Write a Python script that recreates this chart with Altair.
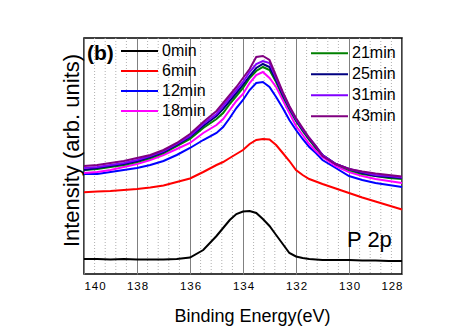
import altair as alt
import pandas as pd

energy = [140, 139.5, 139, 138.5, 138, 137.5, 137, 136.5, 136, 135.5, 135,
          134.75, 134.5, 134.25, 134, 133.75, 133.5, 133.25, 133,
          132.75, 132.5, 132.25, 132, 131.75, 131.5, 131.25, 131,
          130.5, 130, 129.5, 129, 128.5, 128]

min0 = [15, 15, 14.5, 15, 14.5, 14.5, 14.5, 15, 16.5, 24, 38,
        46, 54, 60, 62.5, 63, 61, 55, 48,
        39, 30, 21, 17.5, 16, 15, 14.5, 14,
        14, 14, 13.5, 13.5, 13, 13]
min6 = [81.7, 82.5, 83, 84, 85, 86.5, 88.5, 92, 95.5, 102, 109,
        112, 116, 120, 124, 130, 134, 135, 134.5,
        129, 121, 113, 104, 99, 95, 92.5, 90,
        85.5, 81, 76.5, 72.5, 68.5, 64.5]
min12 = [100, 100, 102, 104, 106, 109, 113, 119, 126, 134, 141,
         147, 156, 166, 174, 184, 191, 192, 187,
         177, 166, 154, 144, 135, 127, 121, 114,
         106, 98, 94, 91, 89, 87]
min18 = [101, 102, 104, 107, 110, 114, 119, 125, 131, 141, 149,
         155, 164, 173, 180, 191, 199, 202, 196,
         187, 174, 161, 148, 139, 130, 123, 117,
         108, 102, 98, 95, 93, 91]
min21 = [104, 105, 107, 109, 112, 116, 121, 128, 135, 146, 155,
         161, 170, 178, 186, 196, 203, 207, 204,
         192, 178, 165, 153, 143, 134, 126, 119,
         110, 104, 100, 98, 96, 95]
min25 = [104, 106, 108, 110, 113, 117, 122, 129, 137, 148, 158,
         165, 173, 181, 189, 198, 206, 210, 207,
         194, 179, 166, 154, 144, 135, 127, 119,
         110, 105, 101, 98, 97, 96]
min31 = [106, 107, 109, 111, 114, 118, 123, 130, 138, 150, 160,
         168, 176, 184, 192, 202, 210, 213, 211,
         196, 181, 167, 155, 145, 136, 128, 119,
         110, 105, 102, 99, 98, 96.5]
min43 = [108, 109, 111, 113, 116, 119, 124, 131, 140, 152, 163,
         171, 179, 187, 196, 205, 217, 218, 214,
         198, 182, 168, 156, 146, 136, 128, 118,
         110, 105, 102.5, 100.5, 99, 97.5]

series_names = ["0min", "6min", "12min", "18min", "21min", "25min", "31min", "43min"]
series_values = [min0, min6, min12, min18, min21, min25, min31, min43]
series_colors = ["#000000", "#ff0000", "#0000ff", "#ff00ff",
                 "#008000", "#000080", "#8000ff", "#800080"]

major_ticks = [140, 138, 136, 134, 132, 130, 128]
minor_ticks = [139.6, 139.2, 138.8, 138.4, 137.6, 137.2, 136.8, 136.4,
               135.6, 135.2, 134.8, 134.4, 133.6, 133.2, 132.8, 132.4,
               131.6, 131.2, 130.8, 130.4, 129.6, 129.2, 128.8, 128.4]

rows = []
for name, vals in zip(series_names, series_values):
    for e, v in zip(energy, vals):
        rows.append({"energy": e, "intensity": v, "series": name})
df = pd.DataFrame(rows)

FONT = "Liberation Sans"
xscale = alt.Scale(domain=[128, 140], reverse=True, nice=False, zero=False)
yscale = alt.Scale(domain=[0, 236], nice=False, zero=False)

x_axis = alt.Axis(values=major_ticks, grid=True, gridColor="#808080",
                  gridWidth=1, ticks=False, domain=False,
                  labelFont=FONT, labelFontSize=11.5, labelColor="black",
                  labelPadding=6,
                  labelExpr="join(split(datum.label, ''), '\u200a')",
                  title="Binding Energy(eV)", titleFont=FONT,
                  titleFontSize=18, titleFontWeight="normal",
                  titleColor="black", titleX=168, titleY=47,
                  titleBaseline="alphabetic")
x_enc = alt.X("energy:Q", scale=xscale, axis=x_axis, title="Binding Energy(eV)")
y_enc = alt.Y("intensity:Q", scale=yscale, title="Intensity (arb. units)",
              axis=alt.Axis(labels=False, ticks=False, grid=False, domain=False,
                            title="Intensity (arb. units)", titleFont=FONT,
                            titleFontSize=22, titleFontWeight="normal",
                            titleColor="black", titleX=-6, titleY=112,
                            titleAngle=270, titleBaseline="alphabetic"))

minor = alt.Chart(pd.DataFrame({"energy": minor_ticks})).mark_rule(
    color="#b0b0b0", strokeDash=[1, 2], strokeWidth=1
).encode(x=x_enc)


def legend(lx, ly, h):
    return alt.Legend(title=None, orient="none", legendX=lx, legendY=ly,
                      symbolType="stroke", symbolSize=1369, symbolStrokeWidth=2,
                      labelFont=FONT, labelFontSize=16, labelColor="black",
                      labelOffset=3, rowPadding=0, clipHeight=h, padding=0)


linesA = alt.Chart(df[df.series.isin(series_names[:4])]).mark_line(strokeWidth=2).encode(
    x=x_enc, y=y_enc,
    color=alt.Color("series:N", sort=series_names[:4],
                    scale=alt.Scale(domain=series_names[:4], range=series_colors[:4]),
                    legend=legend(36, 3, 20)))
linesB = alt.Chart(df[df.series.isin(series_names[4:])]).mark_line(strokeWidth=2).encode(
    x=x_enc, y=y_enc,
    color=alt.Color("series:N", sort=series_names[4:],
                    scale=alt.Scale(domain=series_names[4:], range=series_colors[4:]),
                    legend=legend(226, 5, 20.3)))

label_b = alt.Chart(pd.DataFrame({"t": ["(b)"]})).mark_text(
    font=FONT, fontSize=21, fontWeight="bold", align="left", baseline="middle", color="black"
).encode(x=alt.value(3), y=alt.value(16), text="t:N")
label_p = alt.Chart(pd.DataFrame({"t": ["P 2p"]})).mark_text(
    font=FONT, fontSize=22, align="left", baseline="alphabetic", color="black"
).encode(x=alt.value(263), y=alt.value(209), text="t:N")

chart = alt.layer(minor, linesA, linesB, label_b, label_p).resolve_scale(
    color="independent"
).properties(
    width=318, height=236,
    autosize=alt.AutoSizeParams(type="none"),
    padding={"left": 84, "top": 38, "right": 67, "bottom": 57},
    background="white",
).configure_view(stroke="black", strokeWidth=1.5)

chart.save("out.html", embed_options={"renderer": "svg", "actions": False})
